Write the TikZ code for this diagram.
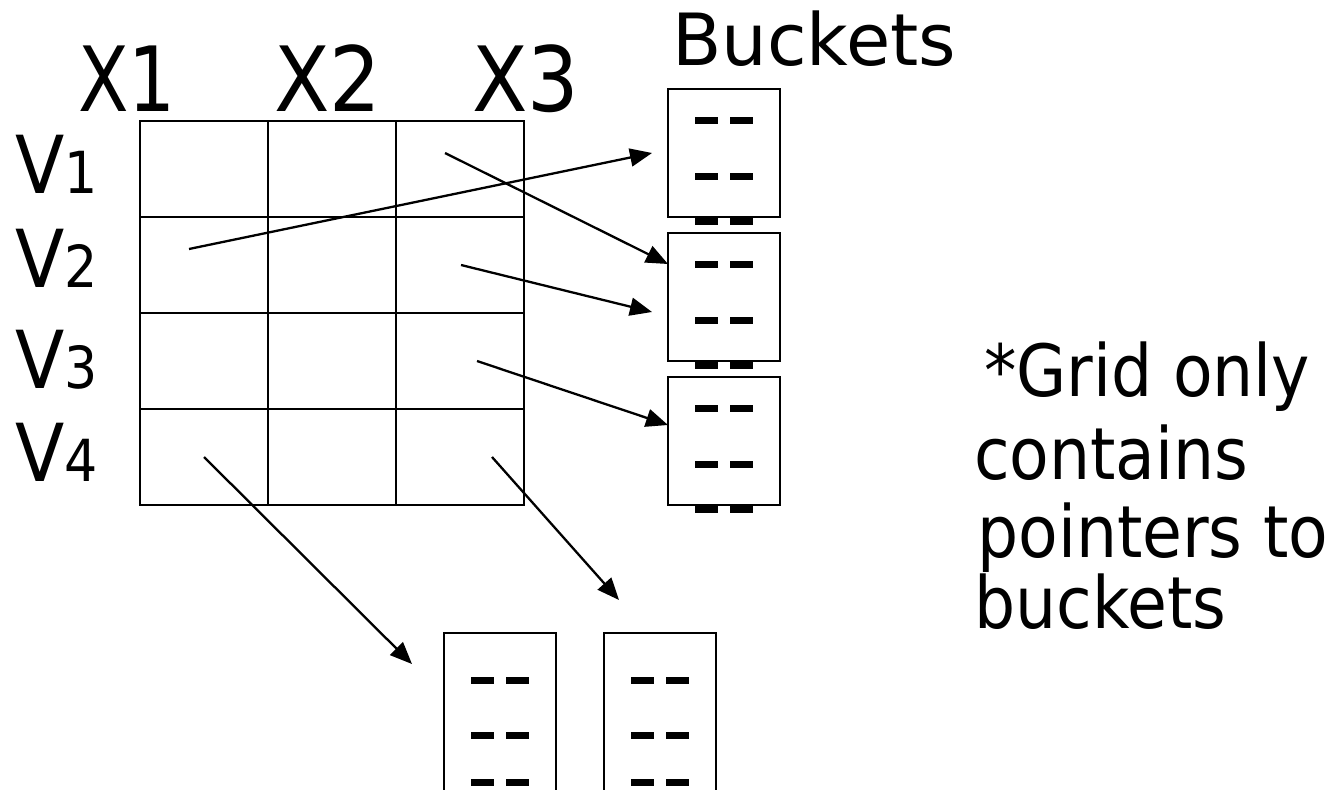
\documentclass[tikz,border=0pt]{standalone}
\usepackage{fontspec}
\setmainfont{DejaVu Sans}
\usepackage{graphicx}
\usetikzlibrary{arrows.meta,calc}
\newcommand{\narrow}[1]{\scalebox{0.9}[1]{#1}}
\begin{document}
\begin{tikzpicture}[x=1pt,y=-1pt,
  cell/.style={draw,line width=2.3pt,minimum width=128pt,minimum height=96pt,inner sep=0,outer sep=0},
  bucketbox/.style={draw,line width=2.5pt,minimum width=112pt,minimum height=128pt,inner sep=0,outer sep=0},
  dashbar/.style={fill=black,draw=none},
  ptr/.style={line width=2.3pt,-{Triangle[length=22pt,width=18pt]}},
  lbl/.style={inner sep=0,anchor=base west},
  big/.style={lbl,font=\fontsize{90}{90}\selectfont},
  mid/.style={lbl,font=\fontsize{72}{72}\selectfont}]
\useasboundingbox (0,0) rectangle (1334,790);

% grid of cells, rows V1..V4, columns X1..X3
\foreach \r in {1,...,4}{
  \foreach \c in {1,...,3}{
    \node[cell] (c\r\c) at ({140+128*(\c-0.5)},{121+96*(\r-0.5)}) {};
  }
}

% column and row headings
\node[big] (x1) at (78,111) {\scalebox{0.82}[1]{X1}};
\node[big] (x2) at (274,111) {\narrow{X2}};
\node[big] (x3) at (472,111) {\narrow{X3}};
\foreach \r/\yb in {1/193,2/287,3/388,4/481}{
  \node[lbl] (v\r) at (15,\yb) {\narrow{\fontsize{80}{80}\selectfont V\fontsize{58}{58}\selectfont\r}};
}

% bucket column on the right
\node[mid] (buckets) at (672,65) {Buckets};
\foreach \i/\top in {1/89,2/233,3/377}{
  \node[bucketbox] (b\i) at (724,{\top+64}) {};
  \foreach \dy in {31,87}{
    \fill[dashbar] (695,{\top+\dy-3.5}) rectangle (718,{\top+\dy+3.5});
    \fill[dashbar] (730,{\top+\dy-3.5}) rectangle (753,{\top+\dy+3.5});
  }
  \fill[dashbar] (695,{\top+129}) rectangle (718,{\top+136});
  \fill[dashbar] (730,{\top+129}) rectangle (753,{\top+136});
}

% open buckets below the grid
\foreach \n/\xl in {l/444,r/604}{
  \coordinate (bb\n) at (\xl,633);
  \draw[line width=2.5pt] (\xl,800) -- (\xl,633) -- ({\xl+112},633) -- ({\xl+112},800);
  \foreach \yc in {680,735,782}{
    \fill[dashbar] ({\xl+27},{\yc-3.5}) rectangle ({\xl+50},{\yc+3.5});
    \fill[dashbar] ({\xl+62},{\yc-3.5}) rectangle ({\xl+85},{\yc+3.5});
  }
}

% pointers from grid cells to buckets
\coordinate (p21) at ($(c21.center)+(-15,-16)$);
\coordinate (p13) at ($(c13.center)+(-15,-16)$);
\coordinate (p23) at ($(c23.center)+(1,0)$);
\coordinate (p33) at ($(c33.center)+(17,0)$);
\coordinate (p41) at ($(c41.center)+(0,0)$);
\coordinate (p43) at ($(c43.center)+(32,0)$);
\draw[ptr] (p21) -- ($(b1.west)+(-16,0)$);
\draw[ptr] (p13) -- ($(b2.north west)+(0,31)$);
\draw[ptr] (p23) -- ($(b2.west)+(-16,15)$);
\draw[ptr] (p33) -- ($(b3.north west)+(0,48)$);
\draw[ptr] (p41) -- ($(bbl)+(-32,31)$);
\draw[ptr] (p43) -- ($(bbr)+(15,-33)$);

% note
\node[mid] (n1) at (984,396) {\narrow{*Grid only}};
\node[mid] (n2) at (974,479) {\narrow{contains}};
\node[mid] (n3) at (977,557) {\narrow{pointers to}};
\node[mid] (n4) at (974,628) {\narrow{buckets}};
\end{tikzpicture}
\end{document}
